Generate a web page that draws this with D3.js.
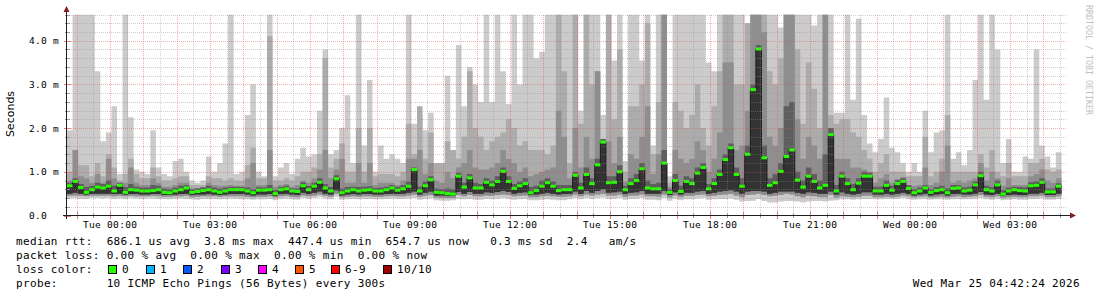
<!DOCTYPE html>
<html>
<head>
<meta charset="utf-8">
<script src="https://cdn.jsdelivr.net/npm/d3@7"></script>
<style>
  html, body { margin: 0; padding: 0; background: #fff; }
  svg text { font-family: "DejaVu Sans Mono", monospace; }
</style>
</head>
<body>
<div id="chart"></div>
<script>
// time range of the graph (30 hours), 10 minute columns
const tStart = new Date(2026, 2, 23, 22, 42, 24);
const tEnd = new Date(2026, 2, 25, 4, 42, 24);
const stepMin = 10;

// rtt values in ms
const med = [
  0.68,0.78,0.64,0.53,0.59,0.65,0.63,0.67,0.56,0.69,0.53,0.59,0.58,0.56,0.56,0.57,0.59,0.53,0.52,0.56,0.59,0.63,0.53,0.55,0.57,0.59,0.56,0.53,0.56,0.59,
  0.59,0.59,0.56,0.52,0.58,0.58,0.59,0.5,0.59,0.61,0.56,0.55,0.68,0.59,0.67,0.76,0.63,0.56,0.84,0.52,0.56,0.59,0.56,0.58,0.59,0.56,0.56,0.59,0.63,0.58,
  0.61,0.67,1.05,0.56,0.68,0.82,0.53,0.52,0.5,0.49,0.9,0.65,0.86,0.63,0.63,0.76,0.7,0.78,1.01,0.78,0.62,0.68,0.73,0.52,0.57,0.67,0.75,0.67,0.57,0.59,
  0.59,0.92,0.63,0.94,0.73,1.16,1.68,0.75,0.76,1.0,0.59,0.73,0.8,1.07,0.63,0.61,0.61,1.2,0.53,0.8,0.55,0.78,0.73,0.97,1.1,0.61,0.73,0.94,1.28,1.55,
  0.94,0.67,1.4,2.88,3.81,1.32,0.69,0.75,1.01,1.35,1.5,0.81,0.65,0.9,0.78,0.63,0.69,1.85,0.56,0.9,0.73,0.59,0.74,0.9,0.9,0.56,0.56,0.69,0.58,0.73,
  0.78,0.62,0.52,0.56,0.63,0.53,0.57,0.59,0.52,0.62,0.63,0.56,0.58,0.7,0.91,0.59,0.56,0.7,0.49,0.56,0.59,0.57,0.56,0.68,0.69,0.76,0.54,0.54,0.67
];
const maxRtt = [
  1.95,4.6,4.6,4.6,4.6,3.3,1.7,1.9,2.5,0.95,4.6,2.25,1.05,1.0,0.95,1.95,1.1,0.95,0.9,1.25,1.3,1.0,0.8,0.75,0.8,1.35,1.0,1.2,1.65,4.6,
  0.95,1.0,2.3,3.0,1.0,0.9,4.6,0.9,1.1,1.2,0.95,1.3,1.55,1.35,1.4,2.4,3.8,1.4,1.5,2.0,2.75,1.2,4.6,1.6,3.1,1.0,1.6,1.3,1.4,1.3,
  1.2,4.6,2.1,2.3,1.95,2.35,1.2,1.2,3.2,1.5,3.9,2.5,3.4,3.0,2.6,4.6,2.6,4.6,3.3,2.55,4.6,3.0,4.6,4.6,3.6,3.75,4.6,4.6,4.6,4.6,
  4.6,4.6,2.4,4.6,4.6,4.6,2.3,4.6,3.55,4.6,1.25,4.6,4.6,3.55,4.6,1.6,4.6,4.6,0.9,4.6,4.6,4.6,4.6,4.6,4.6,3.5,3.3,4.6,4.6,4.6,
  4.6,4.6,4.4,4.6,4.6,4.6,4.6,4.6,4.3,4.6,4.6,4.6,4.6,4.6,4.35,4.6,4.6,4.6,2.35,2.35,4.6,2.65,4.5,2.3,1.65,1.45,1.75,2.7,1.55,1.45,
  1.2,1.0,1.2,1.0,2.4,1.45,1.9,1.95,4.6,1.3,1.45,1.15,1.5,3.1,4.6,2.65,4.6,3.8,1.2,1.75,1.0,1.0,1.35,1.3,3.8,1.6,1.35,1.1,1.45
];
const hi2 = [
  1.0,1.5,1.15,1.15,0.9,1.2,0.9,1.4,1.1,0.8,0.95,1.3,0.95,0.85,0.85,1.1,0.9,0.8,0.8,0.85,0.9,0.9,0.7,0.7,0.7,0.9,0.85,0.85,0.8,0.85,
  0.8,0.8,1.15,1.55,0.85,0.85,4.1,0.8,0.8,0.85,0.8,0.9,1.0,1.0,1.1,1.4,3.6,1.1,1.3,1.65,1.0,1.0,2.0,1.0,2.0,0.9,0.95,0.95,0.95,0.9,
  1.0,2.1,1.4,2.5,1.3,1.9,1.2,1.2,1.7,1.5,1.3,1.8,3.3,2.0,1.8,1.5,1.7,1.8,1.9,2.2,2.0,1.6,1.7,1.5,1.5,1.5,1.4,1.6,4.6,3.3,
  1.2,4.6,2.1,4.6,3.0,3.3,1.6,4.6,2.2,3.8,1.0,2.5,2.5,3.0,4.4,1.4,2.6,4.6,0.75,2.6,2.4,2.0,2.3,3.0,2.0,1.6,2.5,3.3,4.6,4.6,
  3.0,3.0,4.4,4.6,4.6,4.6,3.3,3.0,3.6,4.6,4.6,3.8,2.1,3.5,2.9,2.0,4.6,2.3,2.1,2.2,2.2,1.9,1.8,1.5,1.3,1.0,1.2,1.4,1.0,1.0,
  1.0,0.9,0.9,0.9,1.8,0.9,1.0,1.3,2.3,1.0,1.0,1.0,1.0,1.0,1.4,1.1,1.5,1.0,0.9,1.2,0.9,0.9,0.9,1.2,1.2,1.3,1.05,1.0,1.05
];
const hi3 = [
  0.8,1.5,0.9,0.85,0.75,0.95,0.75,1.3,0.85,0.72,0.75,1.1,0.75,0.7,0.7,0.85,0.75,0.66,0.66,0.7,0.75,0.75,0.62,0.63,0.65,0.75,0.7,0.68,0.68,0.7,
  0.68,0.68,0.85,1.2,0.7,0.7,1.5,0.66,0.7,0.72,0.66,0.7,0.8,0.75,0.85,1.05,1.5,0.85,1.05,1.3,0.75,0.75,1.2,0.75,1.2,0.7,0.75,0.75,0.75,0.7,
  0.8,1.3,1.3,1.5,0.95,1.2,0.8,0.75,1.0,0.85,1.1,1.2,1.5,1.1,1.05,1.05,1.1,1.2,1.5,1.3,1.2,1.0,1.1,0.9,0.95,1.0,1.05,1.1,2.4,1.8,
  0.85,2.0,1.1,1.8,1.3,3.3,1.4,1.7,1.2,1.8,0.78,1.4,1.3,1.8,2.5,0.95,1.4,4.6,0.65,1.5,1.3,1.2,1.3,1.7,1.5,1.0,1.3,1.9,3.5,3.5,
  1.5,1.6,2.4,4.6,4.6,4.2,1.8,1.6,2.0,4.6,4.6,2.2,1.3,1.8,1.6,1.3,4.6,2.0,1.3,1.3,1.3,1.1,1.1,1.05,1.0,0.75,0.85,0.95,0.75,0.82,
  0.88,0.7,0.68,0.7,1.1,0.7,0.75,1.0,1.6,0.75,0.8,0.75,0.8,0.85,1.2,0.8,1.0,0.85,0.68,0.85,0.7,0.7,0.7,0.9,0.95,1.05,0.8,0.75,0.85
];
const hi4 = [
  0.75,0.85,0.72,0.65,0.68,0.75,0.72,0.8,0.68,0.75,0.65,0.72,0.66,0.64,0.64,0.7,0.68,0.62,0.6,0.64,0.68,0.7,0.6,0.62,0.64,0.68,0.64,0.62,0.64,0.66,
  0.66,0.65,0.64,0.6,0.65,0.64,0.7,0.58,0.65,0.68,0.62,0.62,0.76,0.68,0.75,0.85,0.72,0.65,0.92,0.62,0.65,0.66,0.65,0.66,0.67,0.63,0.64,0.66,0.7,0.66,
  0.7,0.78,1.1,0.66,0.78,0.9,0.62,0.6,0.62,0.6,0.98,0.75,0.95,0.75,0.72,0.85,0.8,0.9,1.1,0.9,0.72,0.78,0.85,0.65,0.68,0.8,0.85,0.78,0.7,0.7,
  0.7,1.0,0.75,1.1,0.85,1.3,1.75,0.9,0.9,1.15,0.68,0.85,0.95,1.2,0.8,0.72,0.75,1.5,0.6,0.95,0.68,0.9,0.85,1.1,1.2,0.72,0.85,1.05,1.4,1.65,
  1.1,0.85,1.6,3.0,3.9,1.6,0.85,0.95,1.2,2.5,2.6,1.0,0.8,1.1,0.95,0.8,1.4,2.0,0.7,1.0,0.85,0.72,0.85,1.0,0.98,0.66,0.66,0.8,0.68,0.82,
  0.85,0.7,0.6,0.64,0.7,0.6,0.65,0.68,0.62,0.7,0.7,0.64,0.66,0.78,1.0,0.68,0.65,0.8,0.58,0.64,0.66,0.65,0.64,0.76,0.78,0.85,0.62,0.62,0.74
];
const lo3 = [
  0.5,0.52,0.5,0.48,0.49,0.5,0.5,0.5,0.49,0.5,0.48,0.49,0.49,0.48,0.48,0.49,0.49,0.47,0.47,0.48,0.49,0.5,0.47,0.48,0.48,0.49,0.48,0.47,0.48,0.49,
  0.49,0.49,0.48,0.46,0.48,0.48,0.49,0.45,0.49,0.5,0.48,0.47,0.52,0.49,0.52,0.55,0.5,0.48,0.58,0.46,0.48,0.49,0.48,0.49,0.49,0.48,0.48,0.49,0.5,0.49,
  0.5,0.52,0.55,0.48,0.52,0.55,0.46,0.46,0.45,0.45,0.54,0.5,0.54,0.5,0.5,0.53,0.52,0.54,0.56,0.54,0.5,0.52,0.53,0.47,0.48,0.5,0.52,0.5,0.48,0.49,
  0.5,0.55,0.5,0.56,0.52,0.56,0.6,0.52,0.53,0.55,0.49,0.52,0.53,0.56,0.5,0.5,0.5,0.56,0.47,0.53,0.48,0.52,0.52,0.55,0.56,0.5,0.52,0.55,0.56,0.58,
  0.55,0.5,0.55,0.56,0.56,0.55,0.5,0.52,0.55,0.55,0.55,0.52,0.5,0.53,0.52,0.5,0.5,0.55,0.48,0.53,0.5,0.48,0.5,0.53,0.53,0.48,0.48,0.5,0.48,0.5,
  0.52,0.49,0.46,0.48,0.5,0.46,0.48,0.49,0.46,0.49,0.5,0.48,0.48,0.5,0.54,0.48,0.47,0.5,0.45,0.47,0.48,0.47,0.47,0.5,0.5,0.52,0.47,0.47,0.5
];
const lo2 = [
  0.45,0.46,0.45,0.44,0.45,0.45,0.45,0.46,0.44,0.45,0.44,0.45,0.44,0.44,0.44,0.45,0.44,0.43,0.43,0.44,0.44,0.45,0.42,0.43,0.44,0.44,0.44,0.43,0.44,0.44,
  0.44,0.44,0.43,0.42,0.43,0.43,0.44,0.41,0.44,0.45,0.43,0.42,0.46,0.44,0.46,0.48,0.45,0.43,0.5,0.42,0.43,0.44,0.43,0.44,0.44,0.43,0.43,0.44,0.45,0.44,
  0.44,0.46,0.48,0.43,0.45,0.47,0.41,0.4,0.4,0.4,0.47,0.44,0.47,0.44,0.44,0.46,0.45,0.47,0.48,0.47,0.44,0.45,0.46,0.42,0.42,0.44,0.45,0.44,0.43,0.43,
  0.44,0.48,0.44,0.48,0.46,0.48,0.5,0.46,0.46,0.48,0.43,0.46,0.46,0.48,0.44,0.44,0.43,0.48,0.41,0.46,0.42,0.45,0.45,0.47,0.48,0.44,0.45,0.47,0.48,0.49,
  0.46,0.42,0.47,0.48,0.5,0.47,0.44,0.45,0.47,0.5,0.48,0.44,0.42,0.45,0.44,0.42,0.42,0.47,0.41,0.44,0.43,0.42,0.43,0.45,0.45,0.42,0.42,0.43,0.42,0.43,
  0.46,0.44,0.41,0.43,0.44,0.41,0.42,0.43,0.41,0.43,0.44,0.42,0.43,0.44,0.47,0.43,0.42,0.44,0.4,0.42,0.43,0.42,0.42,0.44,0.44,0.46,0.42,0.42,0.44
];
const minRtt = [
  0.4,0.39,0.38,0.38,0.4,0.4,0.39,0.4,0.38,0.39,0.38,0.4,0.39,0.38,0.39,0.39,0.38,0.38,0.37,0.38,0.39,0.38,0.37,0.36,0.38,0.38,0.38,0.37,0.38,0.39,
  0.38,0.37,0.37,0.36,0.37,0.37,0.38,0.35,0.38,0.39,0.37,0.36,0.4,0.38,0.4,0.42,0.39,0.37,0.43,0.36,0.37,0.38,0.37,0.38,0.38,0.37,0.37,0.38,0.39,0.38,
  0.38,0.39,0.4,0.36,0.38,0.39,0.35,0.34,0.34,0.35,0.38,0.37,0.38,0.36,0.36,0.38,0.37,0.38,0.4,0.38,0.36,0.37,0.38,0.35,0.35,0.36,0.37,0.36,0.35,0.35,
  0.37,0.4,0.37,0.4,0.38,0.4,0.41,0.38,0.38,0.4,0.36,0.38,0.38,0.4,0.36,0.36,0.35,0.4,0.34,0.38,0.35,0.37,0.37,0.39,0.4,0.36,0.37,0.38,0.38,0.39,
  0.36,0.32,0.33,0.34,0.38,0.33,0.3,0.3,0.32,0.33,0.33,0.32,0.3,0.32,0.33,0.33,0.32,0.34,0.35,0.37,0.37,0.36,0.37,0.38,0.38,0.37,0.37,0.38,0.38,0.38,
  0.4,0.38,0.36,0.37,0.38,0.36,0.37,0.37,0.36,0.37,0.38,0.37,0.37,0.38,0.4,0.37,0.36,0.38,0.35,0.36,0.37,0.36,0.36,0.38,0.38,0.39,0.36,0.36,0.38
];

// axis tick labels
const yTickVals = [0, 1, 2, 3, 4];
const yTickText = ["0.0", "1.0 m", "2.0 m", "3.0 m", "4.0 m"];

// legend
const legendLines = [
  "median rtt:  686.1 us avg  3.8 ms max  447.4 us min  654.7 us now   0.3 ms sd  2.4   am/s",
  "packet loss: 0.00 % avg  0.00 % max  0.00 % min  0.00 % now",
  "loss color:",
  "probe:       10 ICMP Echo Pings (56 Bytes) every 300s"
];
const lossLabels = ["0", "1", "2", "3", "4", "5", "6-9", "10/10"];
const lossColors = ["#26ff00", "#00b8ff", "#0059ff", "#7e00ff", "#ff00ff", "#ff5500", "#ff0000", "#a10000"];
const lossBoxX = [108, 146, 183, 221, 258, 295, 331, 383];
const stampText = "Wed Mar 25 04:42:24 2026";

const W = 1097, H = 297;
const svg = d3.select("#chart").append("svg").attr("width", W).attr("height", H);
svg.append("rect").attr("width", W).attr("height", H).attr("fill", "#fff");

const x = d3.scaleTime().domain([tStart, tEnd]).range([67, 1067]);
const y = d3.scaleLinear().domain([0, 4.6]).range([215.5, 14.5]).clamp(true);

// one extra time point to close the last step
const times = d3.range(med.length + 1).map(i => d3.timeMinute.offset(tStart, i * stepMin));
const at = (arr, i) => arr[Math.min(i, arr.length - 1)];

svg.append("defs").append("clipPath").attr("id", "plot")
  .append("rect").attr("x", 67).attr("y", 14.5).attr("width", 1000).attr("height", 201);

const g = svg.append("g").attr("clip-path", "url(#plot)");

//smoke bands, outer to inner
const bands = [
  [minRtt, maxRtt, "#cbcbcb"],
  [lo2, hi2, "#acacac"],
  [lo2, hi3, "#8e8e8e"],
  [lo3, hi4, "#5e5e5e"],
  [lo3, med, "#333333"]
];
const area = d3.area().curve(d3.curveStepAfter)
  .x(d => x(d.t)).y0(d => y(d.lo)).y1(d => y(d.hi));
bands.forEach(b => {
  const rows = times.map((t, i) => ({t: t, lo: at(b[0], i), hi: at(b[1], i)}));
  g.append("path").attr("d", area(rows)).attr("fill", b[2]);
});

//grid
const grid = svg.append("g").attr("shape-rendering", "crispEdges");
const minorY = d3.range(1, 24).map(k => k * 0.2).filter(v => Math.abs(v - Math.round(v)) > 0.01);
grid.selectAll(".gy").data(minorY).enter().append("line")
  .attr("x1", 67).attr("x2", 1067)
  .attr("y1", d => Math.round(y(d)) + 0.5).attr("y2", d => Math.round(y(d)) + 0.5)
  .attr("stroke", "rgba(143,143,143,0.42)").attr("stroke-dasharray", "1,1");
const halfHours = d3.timeMinute.every(30).range(tStart, tEnd).filter(t => t.getMinutes() !== 0);
grid.selectAll(".gx").data(halfHours).enter().append("line")
  .attr("x1", d => Math.round(x(d)) + 0.5).attr("x2", d => Math.round(x(d)) + 0.5)
  .attr("y1", 14.5).attr("y2", 215)
  .attr("stroke", "rgba(143,143,143,0.42)").attr("stroke-dasharray", "1,1");
grid.selectAll(".my").data(yTickVals.slice(1)).enter().append("line")
  .attr("x1", 67).attr("x2", 1067)
  .attr("y1", d => Math.round(y(d)) + 0.5).attr("y2", d => Math.round(y(d)) + 0.5)
  .attr("stroke", "rgba(222,79,79,0.45)").attr("stroke-dasharray", "1,1");
const hours = d3.timeHour.range(tStart, tEnd);
grid.selectAll(".mx").data(hours).enter().append("line")
  .attr("x1", d => Math.round(x(d)) + 0.5).attr("x2", d => Math.round(x(d)) + 0.5)
  .attr("y1", 14.5).attr("y2", 215)
  .attr("stroke", "rgba(222,79,79,0.45)").attr("stroke-dasharray", "1,1");

//median line and loss coloured marks
const medRows = times.map((t, i) => ({t: t, v: at(med, i)}));
g.append("path")
  .attr("d", d3.line().curve(d3.curveStepAfter).x(d => x(d.t)).y(d => y(d.v))(medRows))
  .attr("fill", "none").attr("stroke", "#1c1c1c").attr("stroke-width", 1);
g.selectAll(".lossMark").data(med).enter().append("rect")
  .attr("x", (d, i) => x(times[i]))
  .attr("width", (d, i) => x(times[i + 1]) - x(times[i]))
  .attr("y", d => y(d) - 1.5).attr("height", 3)
  .attr("fill", lossColors[0]);

//axes
const axis = svg.append("g").attr("shape-rendering", "crispEdges");
axis.selectAll(".ty").data(d3.range(0, 24).map(k => k * 0.2)).enter().append("line")
  .attr("x1", (d, i) => i % 5 === 0 ? 64 : 65).attr("x2", (d, i) => i % 5 === 0 ? 71 : 70)
  .attr("y1", d => Math.round(y(d)) + 0.5).attr("y2", d => Math.round(y(d)) + 0.5)
  .attr("stroke", (d, i) => i % 5 === 0 ? "#de8080" : "#999");
axis.selectAll(".tx").data(halfHours.concat(hours)).enter().append("line")
  .attr("x1", d => Math.round(x(d)) + 0.5).attr("x2", d => Math.round(x(d)) + 0.5)
  .attr("y1", d => d.getMinutes() === 0 ? 212 : 213).attr("y2", d => d.getMinutes() === 0 ? 219 : 218)
  .attr("stroke", d => d.getMinutes() === 0 ? "#de8080" : "#999");
axis.append("line").attr("x1", 66.5).attr("x2", 66.5).attr("y1", 11).attr("y2", 219).attr("stroke", "#1f1f1f");
axis.append("line").attr("x1", 63).attr("x2", 1071).attr("y1", 215.5).attr("y2", 215.5).attr("stroke", "#1f1f1f");
svg.append("path").attr("d", "M63.5,12 L69.5,12 L66.5,6 Z").attr("fill", "#801f1f");
svg.append("path").attr("d", "M1070,212.5 L1070,218.5 L1076,215.5 Z").attr("fill", "#801f1f");

svg.selectAll(".ylab").data(yTickVals).enter().append("text")
  .attr("x", 29).attr("y", d => y(d) + 3.5)
  .style("font-size", "9.5px").style("letter-spacing", "0.3px")
  .attr("fill", "#000")
  .text((d, i) => yTickText[i]);

const xLabTimes = d3.timeHour.every(3).range(tStart, tEnd);
const fmt = d3.timeFormat("%a %H:%M");
svg.selectAll(".xlab").data(xLabTimes).enter().append("text")
  .attr("x", d => x(d)).attr("y", 227.5)
  .attr("text-anchor", "middle")
  .style("font-size", "9.5px").style("letter-spacing", "0.3px")
  .attr("fill", "#000")
  .text(d => fmt(d));

svg.append("text")
  .attr("transform", "translate(13.5,114) rotate(-90)")
  .attr("text-anchor", "middle")
  .style("font-family", "'DejaVu Sans', sans-serif").style("font-size", "11px")
  .attr("fill", "#000")
  .text("Seconds");

svg.append("text")
  .attr("transform", "translate(1086,5) rotate(90)")
  .style("font-size", "8.3px")
  .attr("fill", "#c0c0c0")
  .text("RRDTOOL / TOBI OETIKER");

//legend
const legY = [245, 259, 273, 287];
svg.selectAll(".leg").data(legendLines).enter().append("text")
  .attr("x", 16).attr("y", (d, i) => legY[i])
  .attr("xml:space", "preserve").style("white-space", "pre")
  .style("font-size", "11px").style("letter-spacing", "0.35px")
  .attr("fill", "#000")
  .text(d => d);

svg.selectAll(".lossBox").data(lossColors).enter().append("rect")
  .attr("x", (d, i) => lossBoxX[i] + 0.5).attr("y", 265.5)
  .attr("width", 8).attr("height", 8)
  .attr("fill", d => d).attr("stroke", "#000").attr("stroke-width", 1);
svg.selectAll(".lossLab").data(lossLabels).enter().append("text")
  .attr("x", (d, i) => lossBoxX[i] + 14).attr("y", legY[2])
  .style("font-size", "11px").style("letter-spacing", "0.35px")
  .attr("fill", "#000")
  .text(d => d);

svg.append("text")
  .attr("x", 1080).attr("y", legY[3]).attr("text-anchor", "end")
  .style("font-size", "11px").style("letter-spacing", "0.35px")
  .attr("fill", "#000")
  .text(stampText);
</script>
</body>
</html>
